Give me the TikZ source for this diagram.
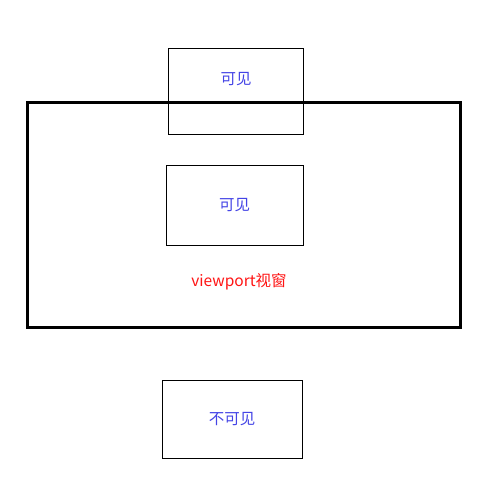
\documentclass[tikz,border=0pt]{standalone}
\usepackage{fontspec}
\setmainfont{Noto Sans CJK SC}
\usetikzlibrary{positioning}
\definecolor{viewblue}{RGB}{68,68,230}
\definecolor{viewred}{RGB}{255,20,20}

\begin{document}
\begin{tikzpicture}[x=1pt, y=-1pt,
  elem/.style={draw, line width=1pt, inner sep=0pt, text=viewblue,
    font=\fontsize{15.5}{18}\selectfont},
  tag/.style={inner sep=0pt, font=\fontsize{15.5}{18}\selectfont}]
  \useasboundingbox (0,0) rectangle (491,498);
  \fill [white] (0,0) rectangle (491,498);
  \node [elem, minimum width=135pt, minimum height=86pt] (above) at (235.5,91) {};
  \node [tag, text=viewblue] (abovetext) at (236,79) {可见};
  \draw [line width=3pt] (27,102.5) rectangle (460,327);
  \node [elem, minimum width=137pt, minimum height=80pt] (inside) at (234.5,205.5) {可见};
  \node [tag, text=viewred] (viewport) at (239,282) {viewport视窗};
  \node [elem, minimum width=140pt, minimum height=78pt] (below) at (232,419) {不可见};
  \end{tikzpicture}
\end{document}
